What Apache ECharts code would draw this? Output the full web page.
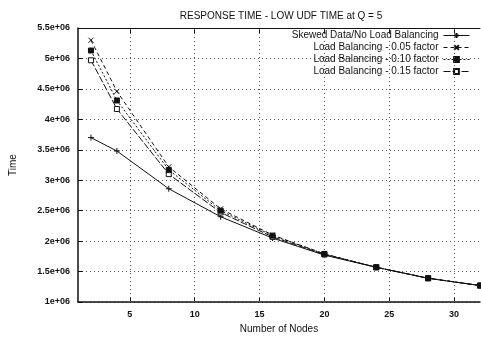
<!DOCTYPE html>
<html>
<head>
<meta charset="utf-8">
<script src="https://cdn.jsdelivr.net/npm/echarts@6/dist/echarts.min.js"></script>
<style>
html, body { margin: 0; padding: 0; background: #fff; }
#main { width: 481px; height: 339px; }
</style>
</head>
<body>
<div id="main"></div>
<script>
// data
var nodes = [2, 4, 8, 12, 16, 20, 24, 28, 32];
var skewed = [3.70e6, 3.48e6, 2.86e6, 2.40e6, 2.05e6, 1.77e6, 1.57e6, 1.39e6, 1.27e6];
var lb005 = [5.30e6, 4.46e6, 3.22e6, 2.53e6, 2.10e6, 1.79e6, 1.57e6, 1.39e6, 1.27e6];
var lb010 = [5.13e6, 4.31e6, 3.17e6, 2.50e6, 2.09e6, 1.79e6, 1.57e6, 1.39e6, 1.27e6];
var lb015 = [4.97e6, 4.17e6, 3.10e6, 2.47e6, 2.07e6, 1.78e6, 1.57e6, 1.39e6, 1.27e6];
var xTicks = [5, 10, 15, 20, 25, 30];
var names = ['Skewed Data/No Load Balancing', 'Load Balancing - 0.05 factor',
             'Load Balancing - 0.10 factor', 'Load Balancing - 0.15 factor'];

function pairs(ys) {
    return nodes.map(function (x, i) { return [x, ys[i]]; });
}

var plus = 'path://M0,5L10,5M5,0L5,10';
var cross = 'path://M0,0L10,10M10,0L0,10';
var font = 'Liberation Sans';

var myChart = echarts.init(document.getElementById('main'));

function mkSeries(name, ys, symbol, fill, type, size, z) {
    return {
        name: name,
        type: 'line',
        z: z,
        data: pairs(ys),
        symbol: symbol,
        symbolSize: size,
        showAllSymbol: true,
        lineStyle: { color: '#111', width: 1, type: type },
        itemStyle: { color: fill, borderColor: '#111', borderWidth: 1 },
        emphasis: { disabled: true },
        animation: false
    };
}

var option = {
    title: {
        text: 'RESPONSE TIME - LOW UDF TIME at Q = 5',
        left: 276, top: 6, textAlign: 'center',
        textStyle: { fontFamily: font, fontSize: 10, fontWeight: 'normal', color: '#111' }
    },
    legend: {
        orient: 'vertical',
        right: 6, top: 25,
        align: 'right',
        itemWidth: 26, itemHeight: 6, itemGap: 1,
        data: names,
        lineStyle: { width: 1 },
        textStyle: { fontFamily: font, fontSize: 10, lineHeight: 11, color: '#111', width: 175, align: 'right', padding: [0, 0, 0, 0] }
    },
    grid: { left: 75, right: 1, top: 28, bottom: 33 },
    xAxis: [{
        type: 'value', min: 1, max: 32,
        name: 'Number of Nodes', nameLocation: 'middle', nameGap: 22,
        nameTextStyle: { fontFamily: font, fontSize: 10, color: '#111' },
        axisLine: { show: true, onZero: false, lineStyle: { color: '#111', width: 1.5 } },
        axisTick: { inside: true, length: 5, customValues: xTicks, lineStyle: { color: '#111' } },
        axisLabel: { customValues: xTicks, fontFamily: font, fontSize: 9, fontWeight: 'bold', color: '#111', margin: 8 },
        splitLine: { show: false }
    }, {
        type: 'value', min: 1, max: 32, position: 'top',
        axisLine: { show: true, onZero: false, lineStyle: { color: '#111', width: 1 } },
        axisTick: { inside: true, length: 5, customValues: xTicks, lineStyle: { color: '#111' } },
        axisLabel: { show: false },
        splitLine: { show: false }
    }],
    yAxis: {
        type: 'value', min: 1e6, max: 5.5e6, interval: 5e5,
        name: 'Time', nameLocation: 'middle', nameGap: 60,
        nameTextStyle: { fontFamily: font, fontSize: 10, color: '#111' },
        axisLine: { show: true, lineStyle: { color: '#111', width: 1.5 } },
        axisTick: { inside: true, length: 5, lineStyle: { color: '#111' } },
        axisLabel: {
            fontFamily: font, fontSize: 9, fontWeight: 'bold', color: '#111', margin: 8,
            formatter: function (v) { return (+(v / 1e6).toFixed(1)) + 'e+06'; }
        },
        splitLine: { show: true, lineStyle: { color: '#555', type: [1, 3], width: 1 } }
    },
    series: [
        mkSeries(names[0], skewed, plus, '#111', 'solid', 6, 2),
        mkSeries(names[1], lb005, cross, '#111', [4, 3], 5, 3),
        mkSeries(names[2], lb010, 'rect', '#111', [2, 2], 5, 5),
        mkSeries(names[3], lb015, 'rect', '#fff', [7, 2], 5, 4),
        {
            // vertical grid lines at the x tick positions
            type: 'line', data: [], silent: true, animation: false,
            markLine: {
                symbol: 'none', silent: true, label: { show: false },
                lineStyle: { color: '#555', type: [1, 3], width: 1 },
                data: xTicks.map(function (t) { return { xAxis: t }; })
            }
        }
    ]
};
myChart.setOption(option);
</script>
</body>
</html>
